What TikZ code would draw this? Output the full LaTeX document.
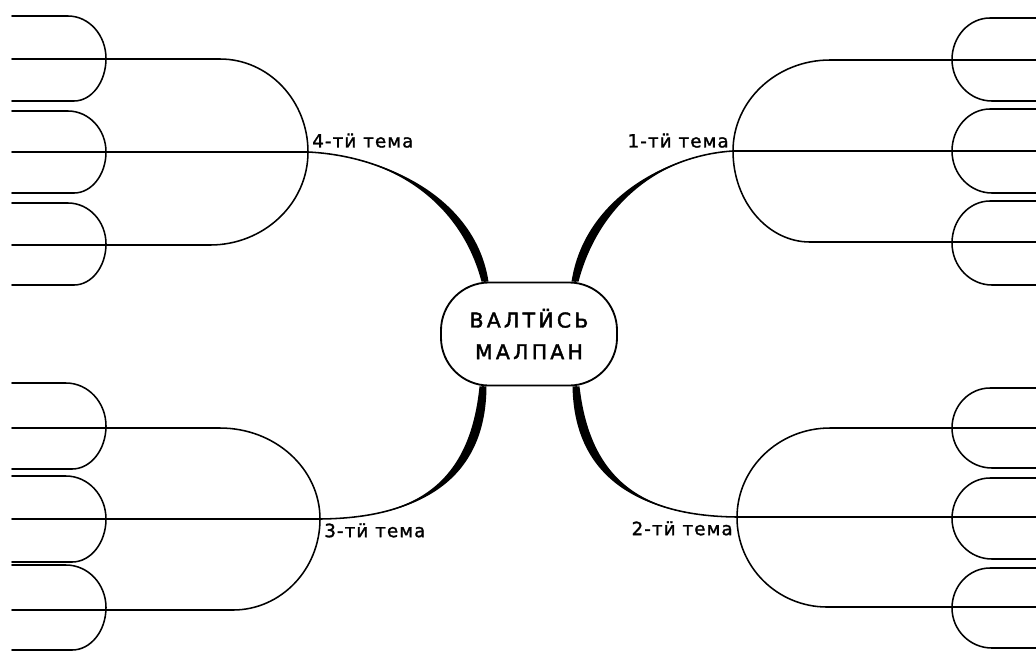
\documentclass[tikz,border=0pt]{standalone}
\usepackage{fontspec}
\newfontfamily\handfont{DejaVu Sans}[LetterSpace=6, FakeBold=1.5]
\newfontfamily\titlefont{DejaVu Sans}[LetterSpace=16, FakeBold=2]
\usetikzlibrary{calc}

% half-round cap: free x, start x (top), start x (bottom), tip x, top y, bottom y
\newcommand{\dshape}[6]{%
  \draw[outline] (#1,#5) -- (#2,#5)
    .. controls ({#2+0.552*(#4-#2)},#5) and (#4,{#5+0.224*(#6-#5)}) .. (#4,{(#5+#6)/2})
    .. controls (#4,{#6-0.224*(#6-#5)}) and ({#3+0.552*(#4-#3)},#6) .. (#3,#6) -- (#1,#6);}
% tapered branch: root, control 1, control 2, junction
\newcommand{\branch}[4]{%
  \fill ($(#1)+(-3.5,0)$) .. controls ($(#2)+(-8,0)$) and (#3) .. (#4)
    .. controls (#3) and ($(#2)+(8,0)$) .. ($(#1)+(3.5,0)$) -- cycle;
  \draw[outline] (#1) .. controls (#2) and (#3) .. (#4);}

\begin{document}
\begin{tikzpicture}[
    x=0.025cm, y=-0.025cm,
    outline/.style={line width=1.1pt, line cap=round},
    mainidea/.style={draw, line width=1.3pt, fill=white, rounded corners=1.2cm, minimum width=4.4cm, minimum height=2.575cm, align=center, font=\titlefont\fontsize{14.5}{22.5}\selectfont},
    topic/.style={inner sep=0pt, font=\handfont\fontsize{13}{15}\selectfont}
]
    \useasboundingbox (0,0) rectangle (1036,653);

    % Central idea
    \node[mainidea] (main) at (529,334) {ВАЛТӤСЬ\\МАЛПАН};

    % Junctions and roots
    \coordinate (j4) at (308,152);
    \coordinate (j1) at (733,151);
    \coordinate (j3) at (320,519);
    \coordinate (j2) at (737,517);
    \coordinate (r4) at ([xshift=-1.1cm]main.north);
    \coordinate (r1) at ([xshift=1.15cm]main.north);
    \coordinate (r3) at ([xshift=-1.15cm]main.south);
    \coordinate (r2) at ([xshift=1.175cm]main.south);

    % Topic labels
    \node[topic, anchor=south west] (t4) at (312,148) {4-тӥ тема};
    \node[topic, anchor=south east] (t1) at (729,148) {1-тӥ тема};
    \node[topic, anchor=north west] (t3) at (324,523) {3-тӥ тема};
    \node[topic, anchor=north east] (t2) at (733,521) {2-тӥ тема};

    % Thick branches
    \branch{r4}{468,200}{390,156}{j4}
    \branch{r1}{592,200}{665,155}{j1}
    \branch{r3}{478,480}{420,518}{j3}
    \branch{r2}{582,478}{640,516}{j2}

    % Left top group
    \dshape{12}{220}{210}{308}{59}{245}
    \draw[outline] (12,152) -- (j4);
    \foreach \yt/\yb in {16/101, 111/193, 203/285}
        {\dshape{12}{68}{74}{106}{\yt}{\yb}}

    % Left bottom group
    \dshape{12}{220}{233}{320}{428}{610}
    \draw[outline] (12,519) -- (j3);
    \foreach \yt/\yb in {383/469, 476/562, 565/650}
        {\dshape{12}{66}{72}{106}{\yt}{\yb}}

    % Right top group
    \dshape{1036}{830}{810}{733}{60}{242}
    \draw[outline] (j1) -- (1036,151);
    \foreach \yt/\yb in {18/101, 109/193, 201/285}
        {\dshape{1036}{990}{992}{952}{\yt}{\yb}}

    % Right bottom group
    \dshape{1036}{830}{827}{737}{428}{607}
    \draw[outline] (j2) -- (1036,517);
    \foreach \yt/\yb in {388/468, 478/559, 568/648}
        {\dshape{1036}{990}{992}{952}{\yt}{\yb}}
\end{tikzpicture}
\end{document}
